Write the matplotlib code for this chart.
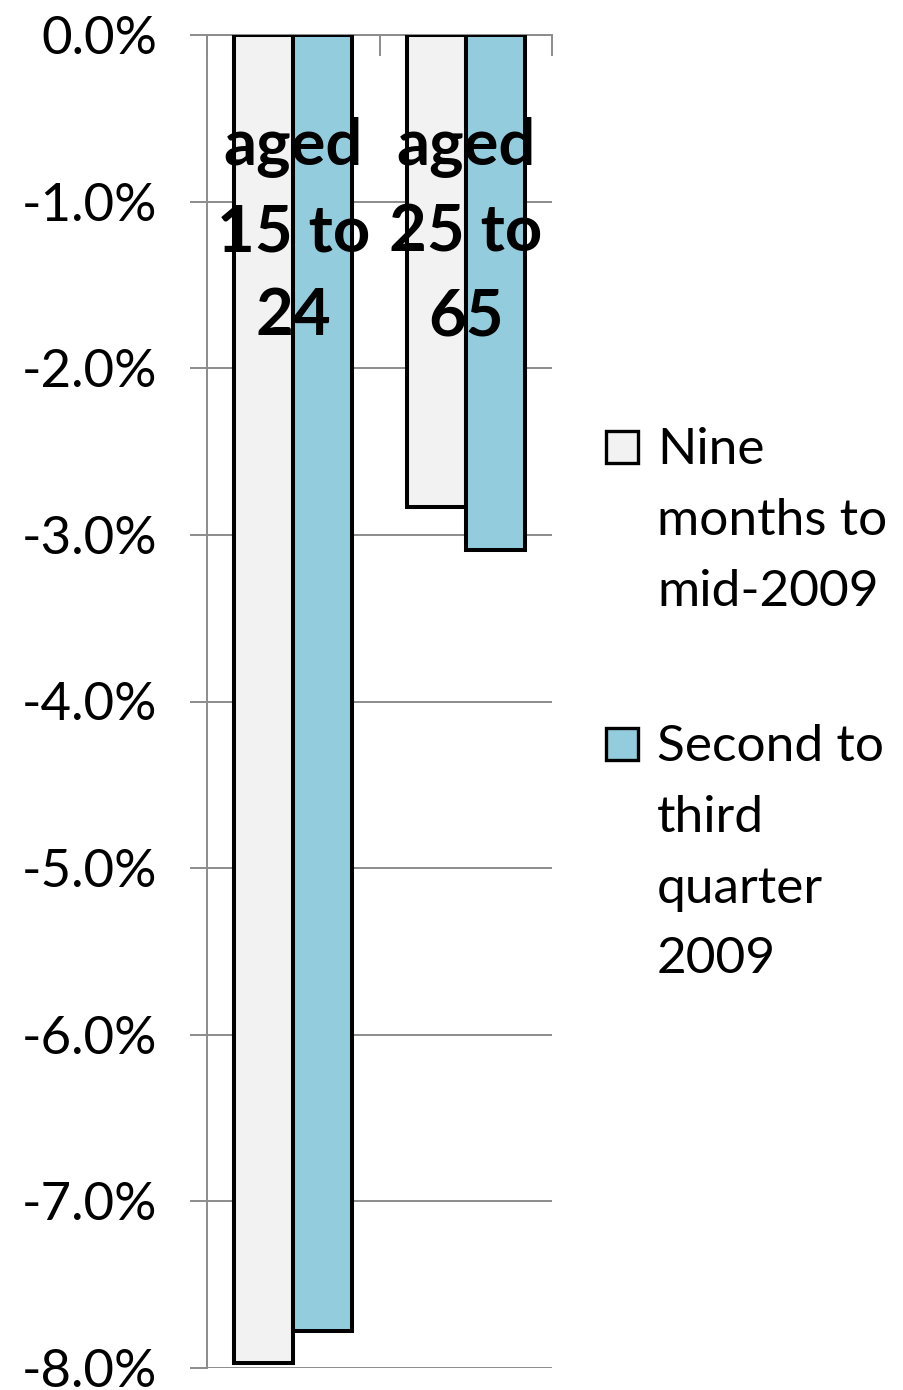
import matplotlib
matplotlib.use("Agg")
import matplotlib.pyplot as plt
from matplotlib.patches import Rectangle

plt.rcParams['font.family'] = ['Lato', 'DejaVu Sans']

categories = ["aged\n15 to\n24", "aged\n25 to\n65"]
series_names = ["Nine\nmonths to\nmid-2009", "Second to\nthird\nquarter\n2009"]
nine_months = [-7.97, -2.83]
second_third = [-7.78, -3.09]
series_colors = ["#F2F2F2", "#93CDDD"]
y_ticks = [0, -1, -2, -3, -4, -5, -6, -7, -8]
y_tick_labels = ["0.0%", "-1.0%", "-2.0%", "-3.0%", "-4.0%", "-5.0%", "-6.0%", "-7.0%", "-8.0%"]

W, H = 904, 1390
fig = plt.figure(figsize=(W / 100, H / 100), dpi=100)
ax = fig.add_axes([207 / W, 1 - 1368 / H, (552 - 207) / W, (1368 - 35) / H])

grid_c = "#8C8C8C"
bw = 0.342
centers = [0.5 + i for i in range(len(categories))]
ax.bar([c - bw / 2 for c in centers], nine_months, width=bw, color=series_colors[0],
       edgecolor="black", linewidth=2.9, zorder=3)
ax.bar([c + bw / 2 for c in centers], second_third, width=bw, color=series_colors[1],
       edgecolor="black", linewidth=2.9, zorder=3)

ax.set_xlim(0, 2)
ax.set_ylim(-8, 0)
ax.set_yticks(y_ticks)
ax.set_yticklabels(y_tick_labels, fontsize=38, va="center_baseline")
ax.tick_params(axis='y', length=12, width=1.4, color=grid_c, pad=24)
ax.yaxis.grid(True, color=grid_c, linewidth=1.4, zorder=0)
ax.set_axisbelow(True)

ax.xaxis.tick_top()
ax.set_xticks([0, 1, 2])
ax.set_xticklabels([])
ax.tick_params(axis='x', direction='in', length=15, width=1.4, color=grid_c)

for s in ["right", "bottom"]:
    ax.spines[s].set_visible(False)
for s in ["top", "left"]:
    ax.spines[s].set_color(grid_c)
    ax.spines[s].set_linewidth(1.4)

for c, lab in zip(centers, categories):
    ax.text(c, -1.18, lab, ha="center", va="center", fontsize=47, fontweight="bold",
            linespacing=1.52, zorder=5)

# legend
fs_leg = 37
entries = [431, 728]
for top_px, name, col in zip(entries, series_names, series_colors):
    fig.patches.append(Rectangle((606 / W, 1 - (top_px + 32) / H), 32 / W, 32 / H,
                                 transform=fig.transFigure, facecolor=col,
                                 edgecolor="black", linewidth=2.4))
    fig.text(657 / W, 1 - (top_px - 4) / H, name, ha="left", va="top", fontsize=fs_leg,
             linespacing=1.67)

fig.savefig("out.png", dpi=100)
